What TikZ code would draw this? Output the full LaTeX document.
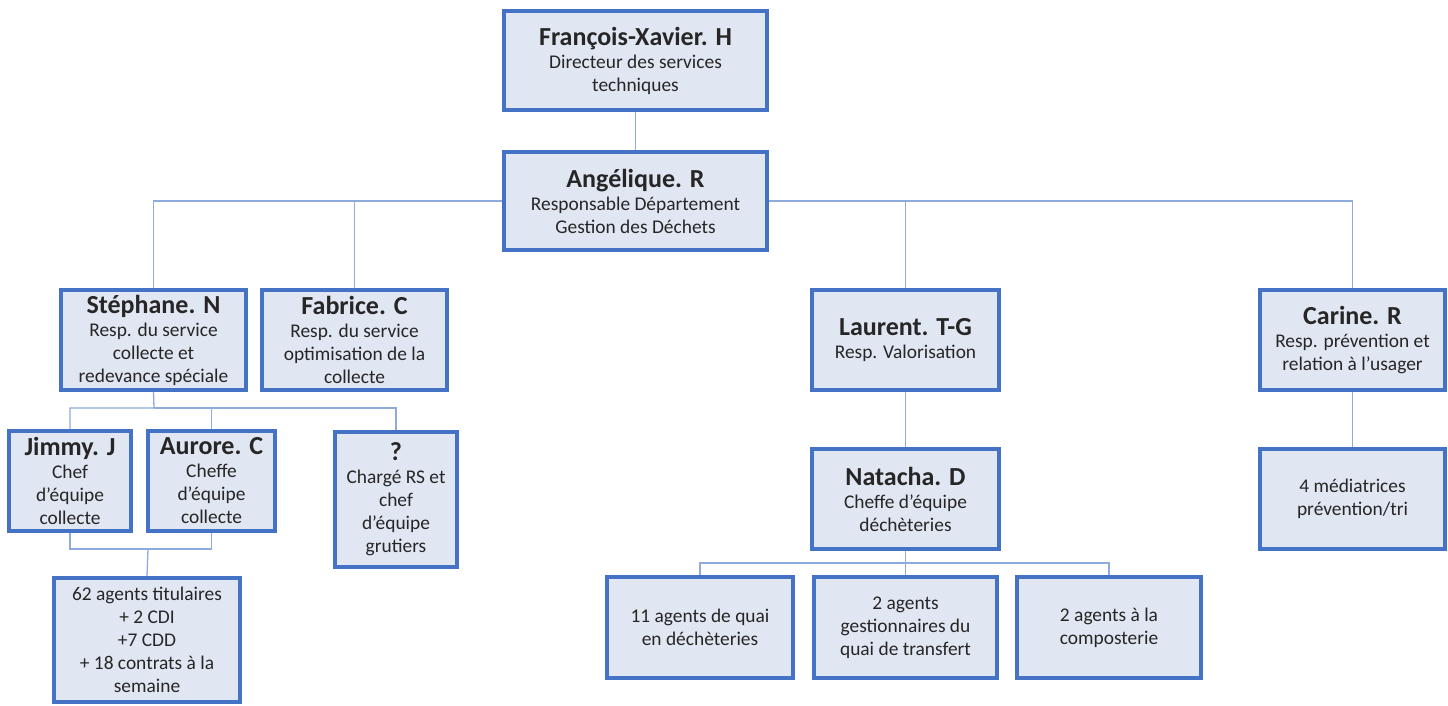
\documentclass[tikz,border=0pt]{standalone}
\usepackage{fontspec}
\setmainfont{Carlito}
\definecolor{boxc}{HTML}{4472C4}
\definecolor{fillc}{HTML}{E0E6F2}
\definecolor{linec}{HTML}{8FAADC}
\definecolor{txtc}{HTML}{262626}
\newcommand{\nm}[1]{{\fontsize{26}{28}\selectfont\bfseries #1}}
\begin{document}
\begin{tikzpicture}[x=1pt,y=-1pt,
  orgbox/.style={draw=boxc,line width=3.6pt,fill=fillc,align=center,inner sep=0pt,
    text=txtc,font=\fontsize{19.4}{23}\selectfont},
  conn/.style={draw=linec,line width=1.3pt}]
\useasboundingbox (0,0) rectangle (1448,705);
\node[orgbox,minimum width=263pt,minimum height=99pt] (fx) at (635.5,60.5)
  {\nm{François-Xavier. H}\\Directeur des services\\techniques};
\node[orgbox,minimum width=263pt,minimum height=98pt] (ang) at (635.5,201)
  {\nm{Angélique. R}\\Responsable Département\\Gestion des Déchets};
\node[orgbox,minimum width=185pt,minimum height=100pt] (ste) at (153.5,340)
  {\nm{Stéphane. N}\\Resp. du service\\collecte et\\redevance spéciale};
\node[orgbox,minimum width=185pt,minimum height=100pt] (fab) at (354.5,340)
  {\nm{Fabrice. C}\\Resp. du service\\optimisation de la\\collecte};
\node[orgbox,minimum width=187pt,minimum height=100pt] (lau) at (905.5,340)
  {\nm{Laurent. T-G}\\Resp. Valorisation};
\node[orgbox,minimum width=185pt,minimum height=100pt] (car) at (1352.5,340)
  {\nm{Carine. R}\\Resp. prévention et\\relation à l’usager};
\node[orgbox,minimum width=122pt,minimum height=100pt] (jim) at (70,481)
  {\nm{Jimmy. J}\\Chef\\d’équipe\\collecte};
\node[orgbox,minimum width=127pt,minimum height=100pt] (aur) at (211.5,481)
  {\nm{Aurore. C}\\Cheffe\\d’équipe\\collecte};
\node[orgbox,minimum width=122pt,minimum height=135pt] (q) at (396,499.5)
  {\nm{?}\\Chargé RS et\\chef\\d’équipe\\grutiers};
\node[orgbox,minimum width=186pt,minimum height=124pt] (ag) at (147,640)
  {62 agents titulaires\\+ 2 CDI\\+7 CDD\\+ 18 contrats à la\\semaine};
\node[orgbox,minimum width=187pt,minimum height=100pt] (nat) at (905.5,499)
  {\nm{Natacha. D}\\Cheffe d’équipe\\déchèteries};
\node[orgbox,minimum width=185pt,minimum height=100pt] (med) at (1352.5,499)
  {4 médiatrices\\prévention/tri};
\node[orgbox,minimum width=186pt,minimum height=101pt] (qa) at (700,627.5)
  {11 agents de quai\\en déchèteries};
\node[orgbox,minimum width=183pt,minimum height=101pt] (qb) at (905.5,627.5)
  {2 agents\\gestionnaires du\\quai de transfert};
\node[orgbox,minimum width=184pt,minimum height=101pt] (qc) at (1109,627.5)
  {2 agents à la\\composterie};
\coordinate (busA) at (154,408);
\coordinate (busB) at (148,549);
\coordinate (busC) at (905.5,563);
% connectors
\path[conn] (fx.south) -- (ang.north);
\path[conn] (ang.west) -| (ste.north);
\path[conn] (ang.west) -| (fab.north);
\path[conn] (ang.east) -| (lau.north);
\path[conn] (ang.east) -| (car.north);
\path[conn] (ste.south) -- (busA) -| (jim.north);
\path[conn] (busA) -| (aur.north);
\path[conn] (busA) -| (q.north);
\path[conn] (jim.south) |- (busB);
\path[conn] (aur.south) |- (busB);
\path[conn] (busB) -- (ag.north);
\path[conn] (lau.south) -- (nat.north);
\path[conn] (nat.south) -- (busC) -| (qa.north);
\path[conn] (busC) -| (qc.north);
\path[conn] (busC) -- (qb.north);
\path[conn] (car.south) -- (med.north);
\end{tikzpicture}
\end{document}
